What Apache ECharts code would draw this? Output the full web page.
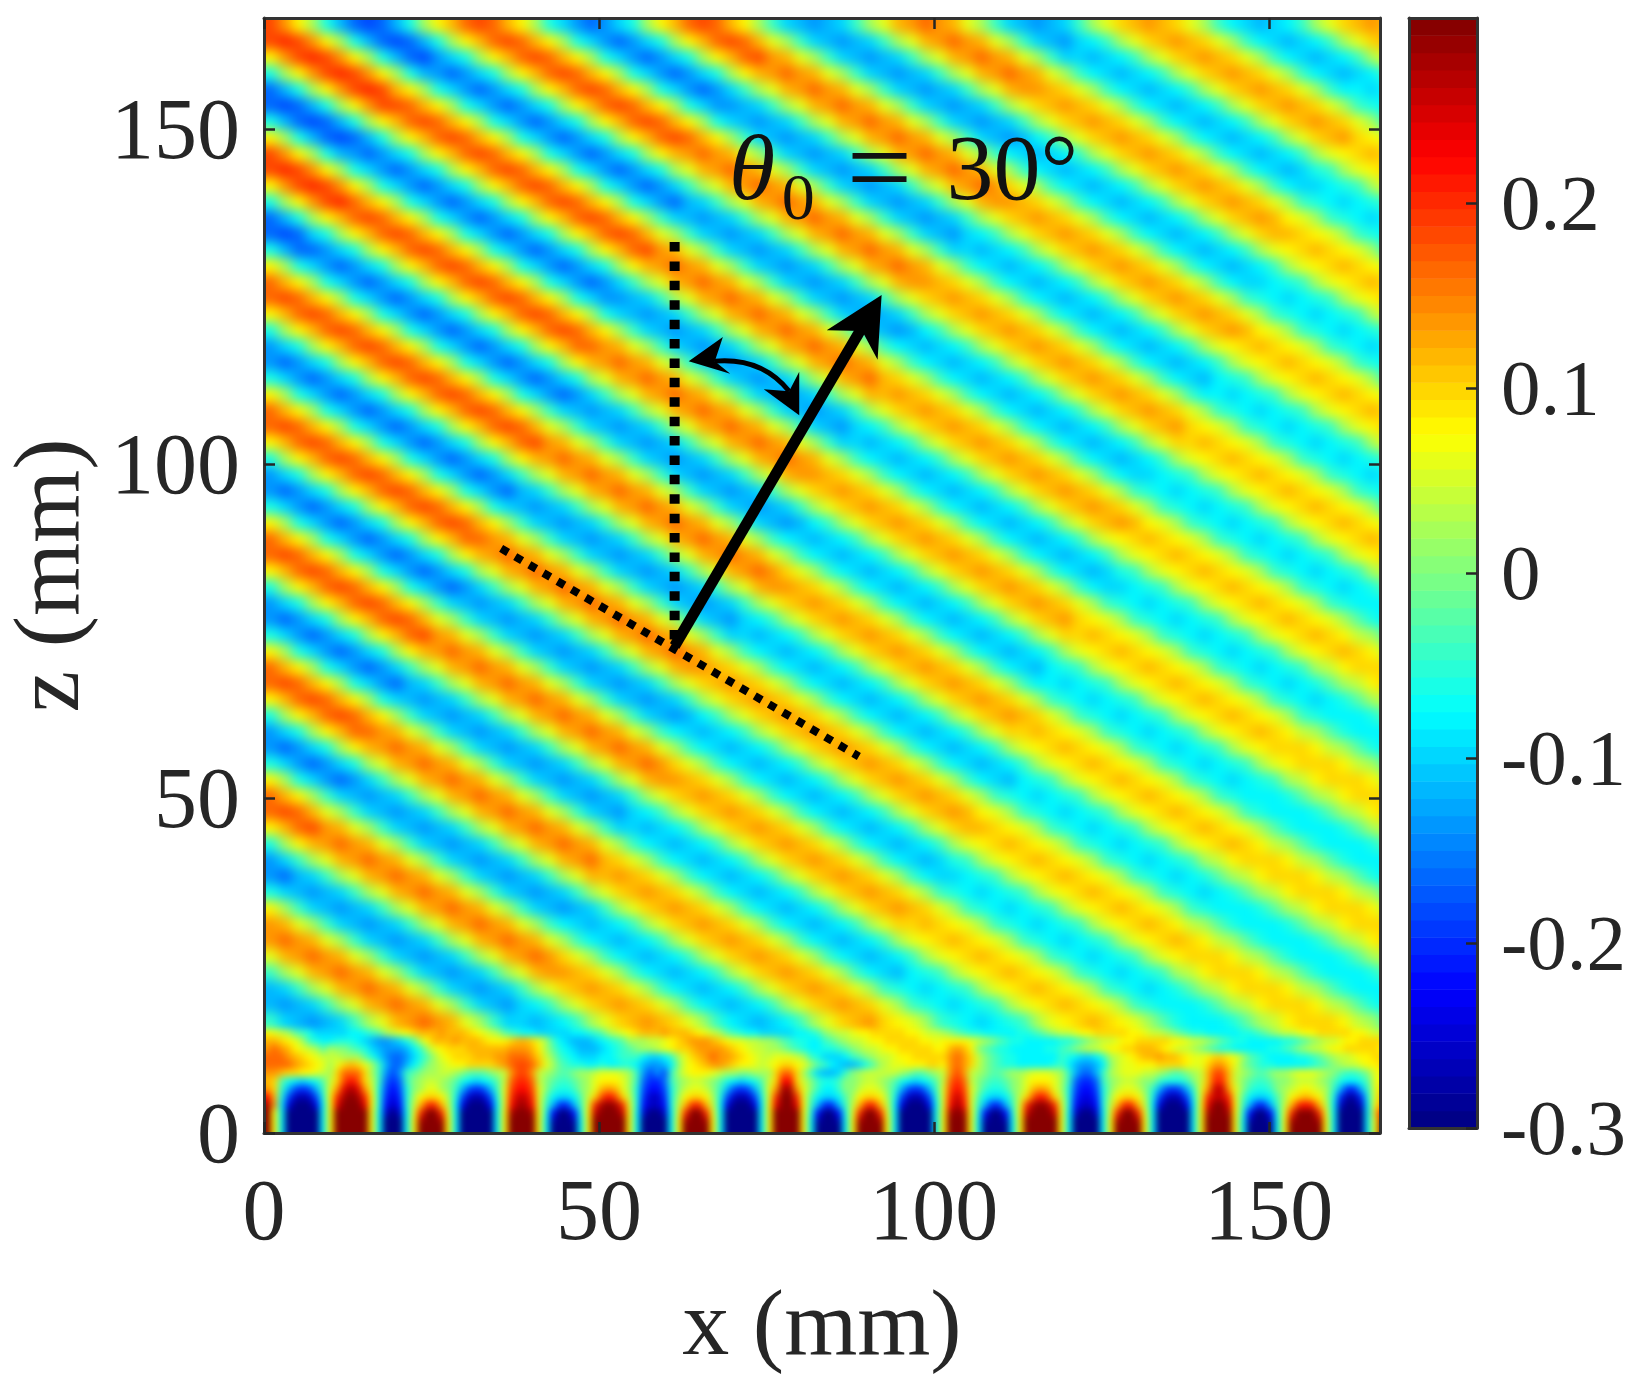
<!DOCTYPE html>
<html lang="en">
<head>
<meta charset="utf-8">
<title>theta 30 wave field</title>
<style>
  html, body { margin: 0; height: 100%; background: #fff; overflow: hidden; }
  #chart { width: 1633px; height: 1383px; }
  /* the field has its own canvases (zlevel -2, -1): soften the cells like shading interp, crop to the plot box */
  #chart canvas:nth-child(1) { filter: blur(6px); clip-path: inset(18px 253px 250px 264px); }
  #chart canvas:nth-child(2) { filter: blur(3.5px); clip-path: inset(18px 253px 250px 264px); }
</style>
</head>
<body>
<div id="chart"></div>
<script src="https://cdn.jsdelivr.net/npm/echarts@6/dist/echarts.min.js"></script>
<script>
// one letter per cell, a = -0.30 ... p = 0 ... z = 0.20 ... E = 0.30 (steps of 0.02)
const levelChars = 'abcdefghijklmnopqrstuvwxyzABCDE';

// z from 166.8 down to 15.6, cells 2.08 x 2.4 mm
const farFieldRows = [
  'ywtqmjhghjmqtvxy xvtqmkihikmqtvxy xvtqnkjijknqsvwx wvsqnkjijknqsuvw vusqnlkjklnqsuvw v',
  'yzywtqmjhghjmqtv xyxvtqmkihikmqtv xyxvsqnkjijknqsv wxwvsqnkjiklnqsu vwvusqnlkjklnqsu v',
  'twyzywtqmjhgikmq tvxyxvtqmkihikmq tvxywvsqnkjijknq svwxwvsqnkkjklnq suvwvusqnlkjklnq s',
  'mqtwyzywtqmjihik mqtvxyxvtqmkihik mqtvwxwvsqnkjijk nqsvwxwvsqnlkjkl nqsuvwvusqnlkjkl n',
  'hjmqtwyzyvtqmkih ikmqtvxyxvtqmkih iknqsvwxwvsqnkji jknqsvwwvusqnlkj klnqsuvwvusqnllk l',
  'hghjmqtwyyxvtqmk ihikmqtvxyxvtqmk iijknqsvwxwvsqnk jijknqsuvwvusqnl kjklnqsuvwvusqnm l',
  'mjhghjmqtvxyxvtq mkihikmqtvxyxvtq mkjijknqsvwxwvsq nkjijknqsuvwvusq nlkjklnqsuvwvusq n',
  'tqmjhghjmqtvxyxv tqmkihikmqtvxyxv tqnkjijknqsvwxwv sqnkjijlnqsuvwvu sqnlkjklnqsuvwut s',
  'ywtqmjihikmqtvxy xvtqmkihikmqtvwx wvsqnkjijknqsvwx wvsqnlkjklnqsuvw vusqnlkjklnqstuv u',
  'yzywtqmkihikmqtv xyxvtqmkihikmqsv wxwvsqnkjijknqsv wxwvsqnlkjklnqsu vwvusqnlkjkmnqst u',
  'twyzywtqmkihikmq tvxyxvtqmkihiknq svwxwvsqnkjijknq svwxwusqnlkjklnq suvwvusqnlkklmnq s',
  'mqtwyzxvtqmkihik mqtvxyxvtqmkihjk nqsvwxwvsqnkjijk nqsvwwvusqnlkjkl nqsuvwvusqnmlklm n',
  'hjmqtvxyxvtqmkih ikmqtvxyxvtqnkji jknqsvwxwvsqnkji jknqsuvwvusqnlkj klnqsuvwvtsqnmlk l',
  'hghkmqtvxyxvtqmk ihikmqtvxyxvsqnk jijknqsvwxwvsqnk jiklnqsuvwvusqnl kjklnqsuvvutsqnm l',
  'mjhhikmqtvxyxvtq mkihikmqtvxywvsq nkjijknqsvwxwvsq nkkjklnqsuvwvusq nlkjklnqstuvutsq n',
  'tqmkihikmqtvxyxv tqmkihikmqtvwxwv sqnkjijknqsvwxwv sqnlkjklnqsuvwvu sqnlkjklnqstuvut s',
  'xvtqmkihikmqtvxy xvtqmkihiknqsvwx wvsqnkjijknqsvww vusqnlkjklnqsuvw vusqnlkklmnqstuv u',
  'xyxvtqmkihikmqtv xyxvtqmkiijknqsv wxwvsqnkjijknqsu vwvusqnlkjklnqsu vwvusqnmlklmnqst u',
  'tvxyxvtqmkihikmq tvxyxvtqmkjijknq svwxwvsqnkjijknq suvwvusqnlkjklnq suvwvusqnmlklmnq s',
  'mqtvxyxvtqmkihik mqtvxyxvtqnkjijk nqsvwxwvsqnkjijl nqsuvwvusqnlkjkl nqsuvwvtsqnmlklm n',
  'ikmqtvxyxvtqmkih ikmqtvxxwvsqnkji jknqsvwxwvsqnlkj klnqsuvwvusqnlkj klnqstuvutsqnmlk l',
  'ihikmqtvxyxvtqmk ihikmqtvwxwvsqnk jijknqsvwxwvsqnl kjklnqsuvwvusqnl kjklnqstuvutsqnm l',
  'mkihikmqtvxyxvtq mkihikmqsvwxwvsq nkjijknqsvwxvusq nlkjklnqsuvwvusq nlkjlmnqstuvutsq n',
  'tqmkihikmqtvxyxv tqmkihiknqsvwxwv sqnkjijknqsvvwvu sqnlkjklnqsuvwvu sqnllklmnqstuvut s',
  'xvtqmkihikmqtvxy xvtqnkjijknqsvwx wvsqnkjijknqsuvw vusqnlkjklnqsuvw vusqnmlklmnqstuv u',
  'xyxvtqmkihikmqtv xyxvsqnkjijknqsv wxwvsqnkjiklnqsu vwvusqnlkjklnqsu vwutsqnmlklmnqst u',
  'tvxyxvtqmkihikmq tvxywvsqnkjijknq svwxwvsqnkkjklnq suvwvusqnlkjklnq suuvutsqnmlklmnq s',
  'mqtvxyxvtqmkihik mqtvwxwvsqnkjijk nqsvwxwvsqnlkjkl nqsuvwvusqnlkjkl nqstuvutsqnmlklm n',
  'ikmqtvxyxvtqmkih iknqsvwxwvsqnkji jknqsvwwvusqnlkj klnqsuvwvusqnlkk lmnqstuvutsqnmlk l',
  'ihikmqtvxyxvtqmk ihjknqsvwxwvsqnk jijknqsuvwvusqnl kjklnqsuvwvusqnm lklmnqstuvutsqnm l',
  'mkihikmqtvxyxvtq mkjijknqsvwxwvsq nkjijknqsuvwvusq nlkjklnqsuvwvusq nmlklmnqstuvutsq n',
  'tqmkihikmqtvxyxv tqnkjijknqsvwxwv sqnkjijlnqsuvwvu sqnlkjklnqsuvwvt sqnmlklmnqstuvut s',
  'xvtqmkihikmqtvxx wvsqnkjijknqsvwx wvsqnlkjklnqsuvw vusqnlkjklnqstuv utsqnmlklmnqstuv u',
  'xyxvtqmkihikmqtv wxwvsqnkjijknqsv wxwvsqnlkjklnqsu vwvusqnlkjklnqst uvutsqnmlklmnqst u',
  'tvxyxvtqmkihikmq svwxwvsqnkjijknq svwxwusqnlkjklnq suvwvusqnlkjkmnq stuvutsqnmlklmnq r',
  'mqtvxyxvtqmkihik nqsvwxwvsqnkjijk nqsvwwvusqnlkjkl nqsuvwvusqnlkklm nqstuvutsqnmlklm o',
  'ikmqtvxyxvtqnkji jknqsvwxwvsqnkji jknqsuvwvusqnlkj klnqsuvwvusqnmlk lmnqstuvutsqnmll l',
  'ihikmqtvxyxvsqnk jijknqsvwxwvsqnk jiklnqsuvwvusqnl kjklnqsuvwutsqnm lklmnqstuvutsqom l',
  'mkihikmqtvxywvsq nkjijknqsvwxwvsq nkkjklnqsuvwvusq nlkjklnqsuuvutsq nmlklmnqstuvutrq o',
  'tqmkihikmqtvwxwv sqnkjijknqsvwxwv sqnlkjklnqsuvwvu sqnlkjklnqstuvut sqnmlklmnqstuvut r',
  'xvtqmkihiknqsvwx wvsqnkjijknqsvww vusqnlkjklnqsuvw vusqnlkjlmnqstuv utsqnmlklmnqrtuu u',
  'xyxvtqmkihjknqsv wxwvsqnkjijknqsu vwvusqnlkjklnqsu vwvusqnllklmnqst uvutsqnmlklmoqrt u',
  'tvxyxvtqmkjijknq svwxwvsqnkjijknq suvwvusqnlkjklnq suvwvusqnmlklmnq stuvutsqnmlklmoq r',
  'mqtvxyxvtqnkjijk nqsvwxwvsqnkjijl nqsuvwvusqnlkjkl nqsuvwvusqnmlklm nqstuvutsqnmlllm o',
  'ikmqtvxxwvsqnkji jknqsvwxwvsqnlkj klnqsuvwvusqnlkj klnqsuuvutsqnmlk lmnqstuvutrqomll l',
  'ihikmqtvwxwvsqnk jijknqsvwxwvsqnl kjklnqsuvwvusqnl kjklnqstuvutsqnm lklmnqstuuutrqom l',
  'mkihikmqsvwxwvsq nkjijknqsvwxwusq nlkjklnqsuvwvusq nlkjklnqstuvutsq nmlklmnqstuuutrq o',
  'tqmkihiknqsvwxwv sqnkjijknqsvwwvu sqnlkjklnqsuvwvu sqnlkjlmnqstuvut sqnmlklmnqrtuuut r',
  'xvtqnkjijknqsvwx wvsqnkjijknqsuvw vusqnlkjklnqsuvw vusqnmlklmnqstuv utsqnmlllmoqrtuu u',
  'xyxvsqnkjijknqsv wxwvsqnkjiklnqsu vwvusqnlkjklnqsu vwvtsqnmlklmnqst uvutsqnmlllmoqrt u',
  'tvxywvsqnkjijknq svwxwvsqnkkjklnq suvwvusqnlkjklnq suvvutsqnmlklmnq stuvutsqomlllmoq r',
  'mqtvwxwvsqnkjijk nqsvwxwvsqnlkjkl nqsuvwvusqnlkjkl nqstuvutsqnmlklm nqstuvutrqomlllm o',
  'iknqsvwxwvsqnkji jknqsvwxvusqnlkj klnqsuvwvusqnlkj kmnqstuvutsqnmlk lmnqrtuuutrqomll l',
  'ihjknqsvwxwvsqnk jijknqsvvwvusqnl kjklnqsuvwvusqnl kklmnqstuvutsqnm lklmoqrtuuutrqom l',
  'mkjijknqsvwxwvsq nkjijknqsuvwvusq nlkjklnqsuvwvusq nmlklmnqstuvutsq nmlklmoqrtuuutrq o',
  'tqnkjijknqsvwxwv sqnkjijknqsuvwvu sqnlkjklnqsuvwvu sqnmlklmnqstuvut sqnmlllmoqrtuuut r',
  'wvsqnkjijknqsvwx wvsqnlkjklnqsuvw vusqnlkjklnqsuuv utsqnmlklmnqstuv utrqomlllmoqrtuu u',
  'wxwvsqnkjijknqsv wxwvsqnlkjklnqsu vwvusqnlkjklnqst uvutsqnmlklmnqst uvutrqomlllmoqrt u',
  'svwxwvsqnkjijknq svwxwusqnlkjklnq suvwvusqnlkjklnq stuvutsqnmlklmnq stuuutrqomlllmoq r',
  'nqsvwxwvsqnkjijk nqsvwwvusqnlkjkl nqsuvwvusqnlkjlm nqstuvutsqnmlklm nqrtuuutrqomlllm o',
  'jknqsvwxwvsqnkji jknqsuvwvusqnlkj klnqsuvwvusqnmlk lmnqstuvutsqnmlk lmoqrtuuutrqomll l',
  'jijknqsvwxwvsqnk jiklnqsuvwvusqnl kjklnqsuvwvusqnm lklmnqstuvutsqnm lllmoqrtuuutrqom l',
  'nkjijknqsvwxwvsq nkkjklnqsuvwvusq nlkjklnqsuvwutsq nmlklmnqstuvutsq omlllmoqrtuuutrq o'
];

// z from 15.6 down to 0, cells 1.04 x 1.2 mm, the lobes along the bottom edge
const nearFieldRows = [
  'ts rqonmkk kkkllmn oqrst uvvvwv vvutsrq onmllk kkkkll mnoqrst uvvvwv vvutsr qonmllk kkkkll mnpqrr sttuuu uuttsrr qponm mlllll mmnopqr rsttuu uuutts rrqponm mlllll mmnopq rrsttuu uuutts rr',
  'vv utsqnml lmmmlkj iijkm ortvvv wvvvutt tuvvus qnlkjj jklmnoq qqrrst uvwwwv utssrrq qponmm llnopq rrsttu uuuutts tttts rqponm mlllllm mnopqr rsttuu uuuttsr rqponm mlllll mmnopqr rsttuu uu',
  'wx wvtsrqo qpponmk jiiij lnqstu uuvvvvv vwwwvt qomlkj jjklmno pqqrst uuvwww wvutsrr qqponm llmmno pqrrst tuuuuut tvwvt ponmml llllmmn opqrrs ttuuvv vutsrrq ponmml llllmm nopqrrs ttuuuu ut',
  'xx xwvutsr rrqqqom kihhi kmoqst uuuvvvw wxxxwu rpnmlk kkllmnn nlkkln qsuvwx wwvutsr rsssrq nmkkkl nopqrr sttuuuu uwxwu rponmm lllllln mlkkln qrstuv vwvvuts stuuts qonmll llmmnop qrrstt uu',
  'xx xxwvuts qsuvusq njhhj lnpqrs ttuuuuv wxyyxv sqonmm llmllmm ljiijl pstuvw wvuttsr stuuts qonlkj jkmoqr sstttuu twxwu rponmm lllllmn ljiijl prsstt tuuuuts suwwus ponmml llllmno pqrrst tu',
  'ww vuuttsr quxxxuq nigin opqqrr qpooopq rwyywr qpoopq qrsssrq nigign qsttts rqqppqq quxxuq nkjjkn pqrrrr rqpoopq rwywr qpoopq qrsssrq njhhjn qrsssr rqpoopq rvyyvr qpoopq qrsssrq ponnop st',
  'vu omlklmo ruyAyur nhfhn pqrrqp omlklmo rxzzxr ponnop qstttsq nhffhn pqrrqp omlklmo ruAAur pnmmnp pqrrqp omlklmo rxzxr ponnop qstttsq nhffhn pqrrqp pnmmmnp rvzzvr ponnop pqrrrqp omllmo st',
  'wu njgfgjn swBDBws mgegm pqssqp njgfgjn syAAys pnmmnp qsvwvsq mgeegm prssrp njgfgjn swDDws pnllnp prssrp njgfgjn syAys pnmmnp qsvwvsq mgeegm prssrp njgfgjn swCCws pnmmnp qrstsrq njffjn su',
  'Av mgcbcgm tzDEDzt mfdfm qtuutq mgcbcgm szCCzs olkklo ruyAyur mfccfm qtuutq mgcbcgm szEEzs olkklo qtuutq mgcbcgm szCzs olkklo ruyAyur mfddfm qtuutq mgcbcgm szCCzs olkklo qtuvutq mfbbfm sv',
  'Dw ldaaadl tBEEEBt mecem rvzzvr ldaaadl sADDAs njffjn szDEDzs meccem rvzzvr ldaaadl tBEEBt njffjn rvzzvr ldaaadl sADAs njffjn szDEDzs meccem rvzzvr ldaaadl tBEEBt njffjn rvzAzvr lcaacl tw',
  'Et laaaaal tEEEEEt lcacl szEEzs laaaaal tDEEDt meaaem tCEEECt lcaacl szEEzs laaaaal tEEEEt meaaem szEEzs laaaaal tDEDt meaaem tCEEECt lcaacl szEEzs laaaaal tDEEDt meaaem szEEEzs laaaal uA',
  'Et laaaaal tEEEEEt laaal tDEEDt laaaaal tEEEEt lbaabl tEEEEEt laaaal tDEEDt laaaaal tEEEEt lbaabl tDEEDt laaaaal tEEEt lbaabl tEEEEEt laaaal tDEEDt laaaaal tEEEEt lbaabl tDEEEDt laaaal tD',
  'Et laaaaal tEEEEEt laaal tEEEEt laaaaal tEEEEt laaaal tEEEEEt laaaal tEEEEt laaaaal tEEEEt laaaal tEEEEt laaaaal tEEEt laaaal tEEEEEt laaaal tEEEEt laaaaal tEEEEt laaaal tEEEEEt laaaal tE'
];

const xMax = 166.6;
const zMax = 166.7;
const xTicks = [0, 50, 100, 150];
const zTicks = [0, 50, 100, 150];
const barTicks = [-0.3, -0.2, -0.1, 0, 0.1, 0.2];

// annotations, in mm
const verticalGuide = [[61.3, 133.2], [61.3, 72.8]];
const crestGuide = [[35.4, 87.4], [88.8, 56.3]];
const arrowShaft = [[61.3, 72.8], [90.2, 122]];
const arrowHead = [[92.2, 125.3], [84, 120], [89.3, 119.9], [91.6, 115.6]];
const angleCurve = [[67.3, 115.4], [74.3, 116], [78.4, 110.9]];
const angleHeadA = [[63.4, 115.4], [68.5, 119], [67.3, 115.4], [69.6, 113.5]];
const angleHeadB = [[79.9, 107.3], [79.9, 113.8], [78.4, 110.9], [74.6, 111.2]];
const angleLabels = [
  ['θ', 69.4, 143.3, 94, 'italic'],
  ['0', 77.3, 139.2, 66, 'normal'],
  ['=', 87, 143.2, 116, 'normal'],
  ['30°', 101.9, 143.3, 94, 'normal']
];

// matlab jet with 64 steps
function jetColor(i) {
  const t = (i + 0.5) / 64;
  const ch = function (v) { return Math.round(255 * Math.max(0, Math.min(1, v))); };
  return 'rgb(' + ch(Math.min(4 * t - 1.5, 4.5 - 4 * t)) + ',' +
    ch(Math.min(4 * t - 0.5, 3.5 - 4 * t)) + ',' + ch(Math.min(4 * t + 0.5, 2.5 - 4 * t)) + ')';
}
function colorOf(v) {
  return jetColor(Math.max(0, Math.min(63, Math.floor((v + 0.3) / 0.6 * 64))));
}

function cellsOf(rows, dx, dz, zBottom) {
  const cells = [];
  rows.forEach(function (row, r) {
    const z0 = zBottom + dz * (rows.length - 1 - r);
    row.replace(/ /g, '').split('').forEach(function (c, i) {
      cells.push([i * dx, z0, (i + 1) * dx, z0 + dz, -0.3 + 0.02 * levelChars.indexOf(c)]);
    });
  });
  return cells;
}
const farCells = cellsOf(farFieldRows, 2.08, 2.4, 15.6);
const nearCells = cellsOf(nearFieldRows, 1.04, 1.2, 0);

const barCells = [];
for (let i = 0; i < 64; i++) barCells.push([0, -0.3 + i * 0.6 / 64, 1, -0.3 + (i + 1) * 0.6 / 64, i]);

const serif = '"Liberation Serif", "Times New Roman", serif';
const ink = '#262626';
const lineStyle = { color: '#333', width: 3 };
const tickStyle = { color: ink, width: 2.5 };

function boxAxis(gridIndex, position, min, max, ticks) {
  return {
    type: 'value', gridIndex: gridIndex, position: position, min: min, max: max, z: 10,
    splitLine: { show: false },
    axisLine: { show: true, onZero: false, lineStyle: lineStyle },
    axisTick: ticks ? { show: true, inside: true, length: 11, lineStyle: tickStyle, customValues: ticks } : { show: false },
    axisLabel: { show: false }
  };
}
// drop: the labels of the vertical axes sit a little below their ticks
function labelled(axis, ticks, fontSize, margin, drop, name, nameGap) {
  axis.axisLabel = {
    show: true, customValues: ticks, margin: margin, color: ink, fontFamily: serif, fontSize: fontSize,
    rich: { t: { color: ink, fontFamily: serif, fontSize: fontSize, padding: [drop, 0, 0, 0] } },
    formatter: function (v) { return '{t|' + (Math.round(v * 10) / 10) + '}'; }
  };
  if (name) {
    axis.name = name;
    axis.nameLocation = 'middle';
    axis.nameGap = nameGap;
    axis.nameTextStyle = { color: ink, fontFamily: serif, fontSize: 94 };
  }
  return axis;
}

function polygonOf(api, pts) {
  return {
    type: 'polygon',
    shape: { points: pts.map(function (p) { return api.coord(p); }) },
    style: { fill: '#000' }
  };
}

// edge cells run past the box so the blur does not fade there; the far field also runs under the near one
function fieldCell(params, api) {
  const a = api.coord([api.value(0), api.value(3)]);
  const b = api.coord([api.value(2), api.value(1)]);
  const left = api.value(0) === 0 ? a[0] - 20 : a[0];
  const top = api.value(3) >= zMax ? a[1] - 20 : a[1];
  const right = api.value(2) >= xMax ? b[0] + 20 : b[0] + 1;
  const bottom = api.value(1) === 0 || api.value(1) === 15.6 ? b[1] + 20 : b[1] + 1;
  return {
    type: 'rect',
    shape: { x: left, y: top, width: right - left, height: bottom - top },
    style: { fill: colorOf(api.value(4)) }
  };
}

const chart = echarts.init(document.getElementById('chart'), null, { renderer: 'canvas' });
chart.setOption({
  animation: false,
  backgroundColor: 'transparent',
  grid: [
    { left: 264, top: 18, width: 1116, height: 1115, outerBoundsMode: 'none' },
    { left: 1409, top: 18, width: 68, height: 1110, outerBoundsMode: 'none' }
  ],
  xAxis: [
    labelled(boxAxis(0, 'bottom', 0, xMax, xTicks), xTicks, 86, 40, 0, 'x (mm)', 149),
    boxAxis(0, 'top', 0, xMax, xTicks),
    boxAxis(1, 'bottom', 0, 1, null),
    boxAxis(1, 'top', 0, 1, null)
  ],
  yAxis: [
    labelled(boxAxis(0, 'left', 0, zMax, zTicks), zTicks, 86, 24, 12, 'z (mm)', 163),
    boxAxis(0, 'right', 0, zMax, zTicks),
    labelled(boxAxis(1, 'right', -0.3, 0.3, barTicks), barTicks, 79, 24, 10),
    boxAxis(1, 'left', -0.3, 0.3, null)
  ],
  series: [
    {
      type: 'custom', zlevel: -2, silent: true, clip: false, progressive: 0,
      xAxisIndex: 0, yAxisIndex: 0,
      encode: { x: [0, 2], y: [1, 3] },
      data: farCells,
      renderItem: fieldCell
    },
    {
      type: 'custom', zlevel: -1, silent: true, clip: false, progressive: 0,
      xAxisIndex: 0, yAxisIndex: 0,
      encode: { x: [0, 2], y: [1, 3] },
      data: nearCells,
      renderItem: fieldCell
    },
    {
      // colour bar
      type: 'custom', silent: true, xAxisIndex: 2, yAxisIndex: 2, progressive: 0,
      encode: { x: [0, 2], y: [1, 3] },
      data: barCells,
      renderItem: function (params, api) {
        const a = api.coord([api.value(0), api.value(3)]);
        const b = api.coord([api.value(2), api.value(1)]);
        return {
          type: 'rect',
          shape: { x: a[0], y: a[1], width: b[0] - a[0], height: b[1] - a[1] + 0.5 },
          style: { fill: jetColor(api.value(4)) }
        };
      }
    },
    {
      type: 'line', silent: true, xAxisIndex: 0, yAxisIndex: 0, showSymbol: false, z: 5,
      data: verticalGuide,
      lineStyle: { color: '#000', width: 10, type: [9.5, 9.9], cap: 'butt' }
    },
    {
      type: 'line', silent: true, xAxisIndex: 0, yAxisIndex: 0, showSymbol: false, z: 5,
      data: crestGuide,
      lineStyle: { color: '#000', width: 8, type: [8, 8.3], cap: 'butt' }
    },
    {
      type: 'line', silent: true, xAxisIndex: 0, yAxisIndex: 0, showSymbol: false, z: 6,
      data: arrowShaft,
      lineStyle: { color: '#000', width: 11, cap: 'butt' }
    },
    {
      // arrow heads, the curved arrow and the angle text
      type: 'custom', silent: true, xAxisIndex: 0, yAxisIndex: 0, z: 7, clip: false,
      data: [[0]],
      renderItem: function (params, api) {
        const c = angleCurve.map(function (p) { return api.coord(p); });
        const children = [
          polygonOf(api, arrowHead),
          polygonOf(api, angleHeadA),
          polygonOf(api, angleHeadB),
          {
            type: 'bezierCurve',
            shape: { x1: c[0][0], y1: c[0][1], cpx1: c[1][0], cpy1: c[1][1], x2: c[2][0], y2: c[2][1] },
            style: { stroke: '#000', fill: null, lineWidth: 5 }
          }
        ];
        angleLabels.forEach(function (t) {
          const p = api.coord([t[1], t[2]]);
          children.push({
            type: 'text',
            style: {
              text: t[0], x: p[0], y: p[1], align: 'left', verticalAlign: 'middle', fill: '#111',
              font: t[4] + ' ' + t[3] + 'px ' + serif
            }
          });
        });
        return { type: 'group', children: children };
      }
    }
  ]
});
</script>
</body>
</html>
